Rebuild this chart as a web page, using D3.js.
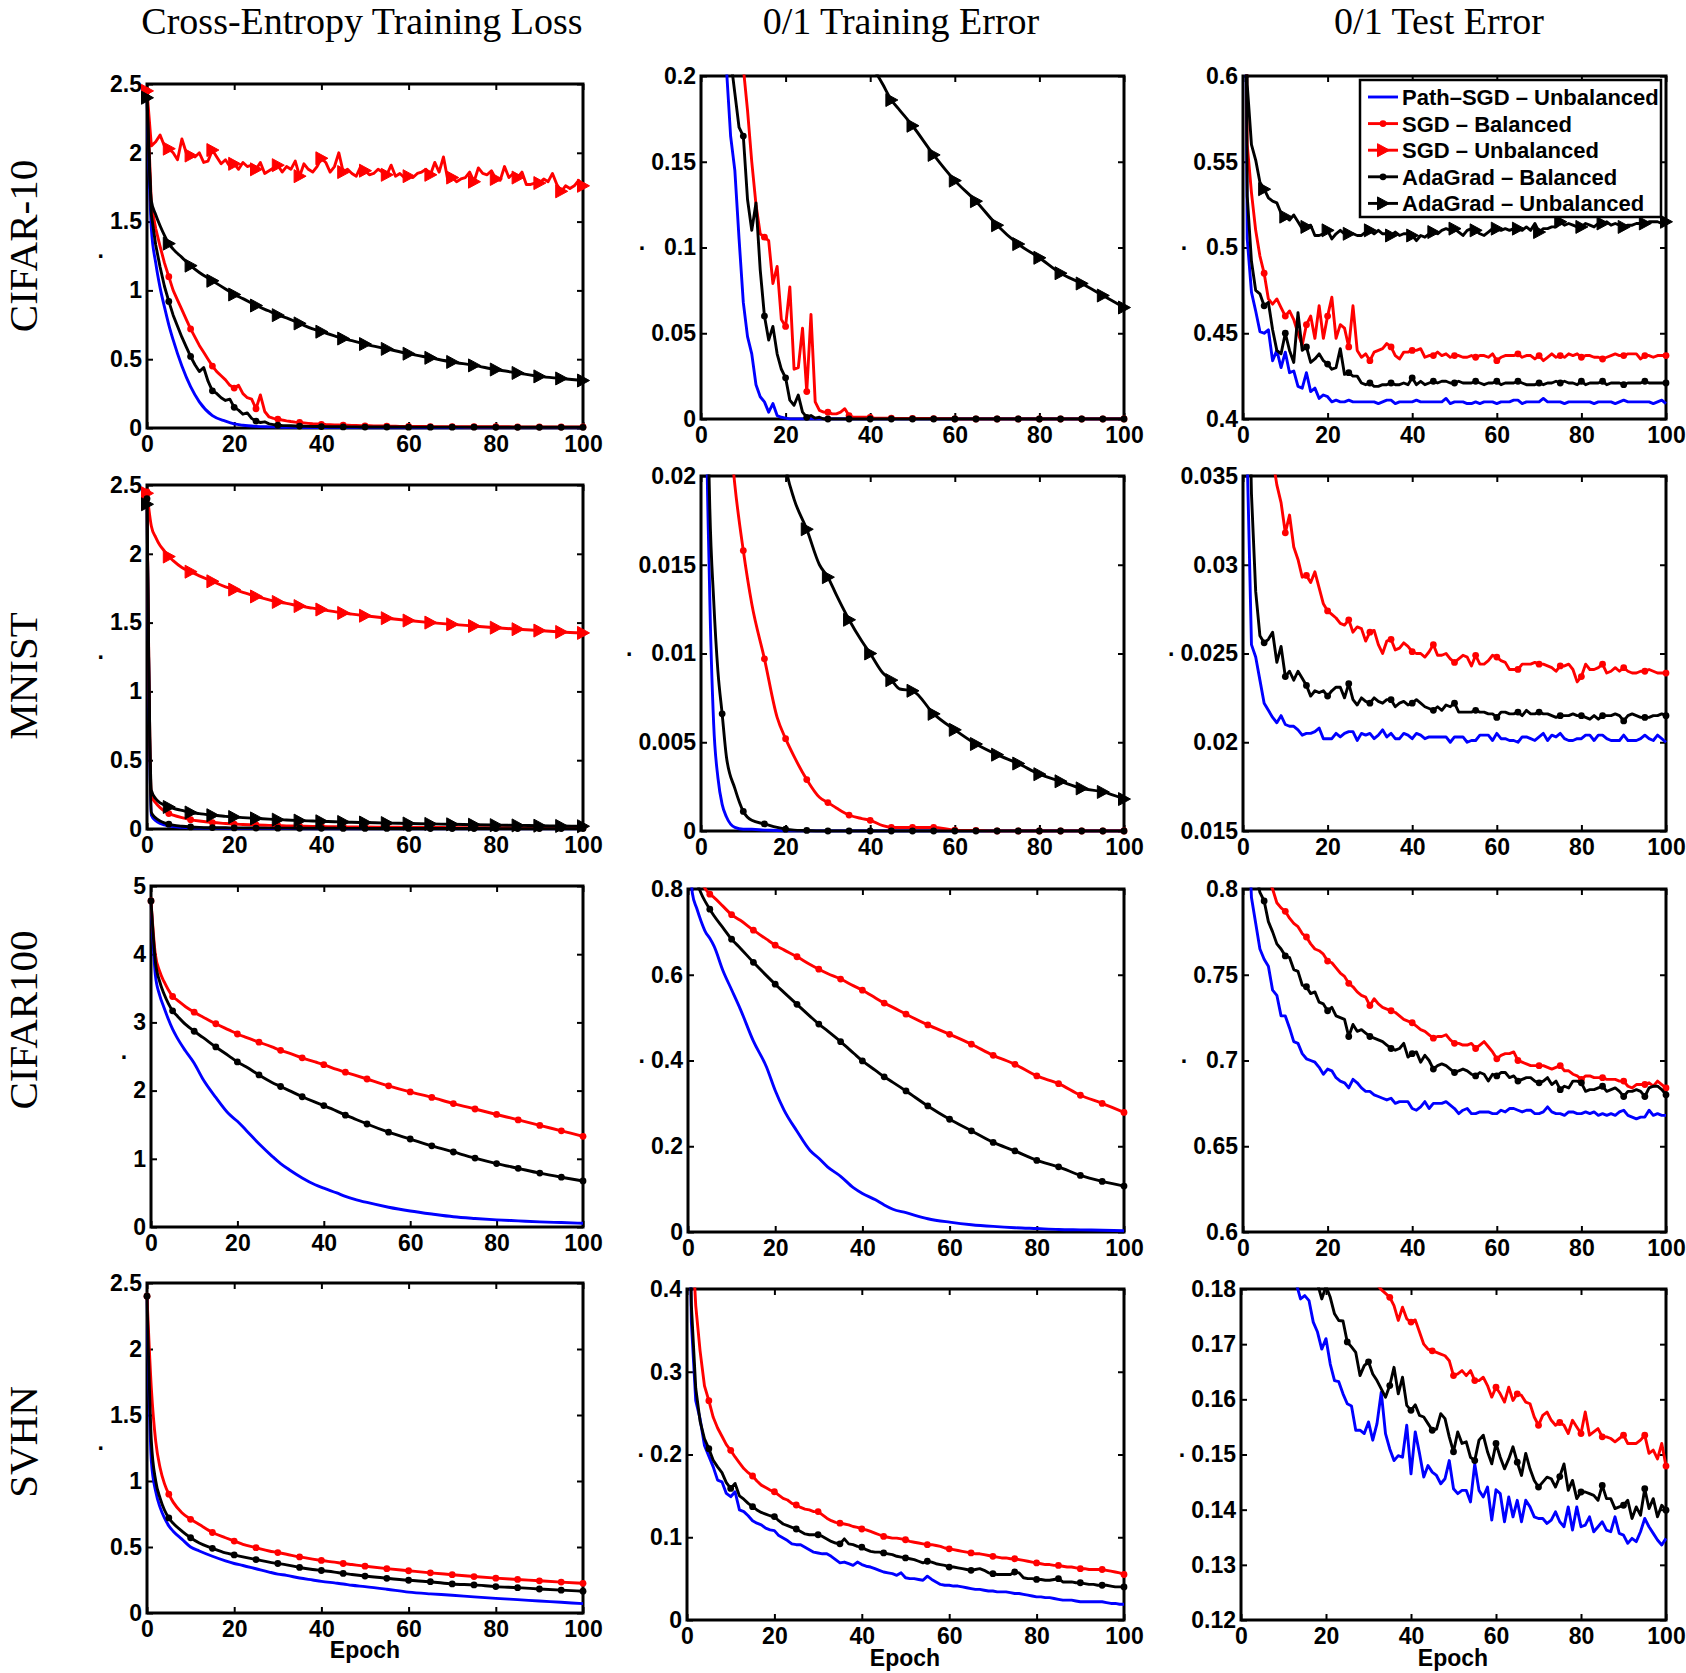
<!DOCTYPE html>
<html><head><meta charset="utf-8">
<script src="https://cdn.jsdelivr.net/npm/d3@7/dist/d3.min.js"></script>
<style>body{margin:0;background:#fff}</style>
</head><body>
<svg id="c" width="1686" height="1673"></svg>
<script>
// ---------------- DATA ----------------
const EPOCHS = d3.range(0, 101);
const GRID = [0,1,2,3,4,5,6,8,10,12,15,18,20,22,25,28,30,32,35,38,40,43,45,47,50,55,60,65,70,75,80,85,90,95,100];
const xTicks = [0,20,40,60,80,100];
const columnTitles = ["Cross-Entropy Training Loss","0/1 Training Error","0/1 Test Error"];
const rowLabels = ["CIFAR-10","MNIST","CIFAR100","SVHN"];
const seriesKeys = ["pathU","sgdB","sgdU","adaB","adaU"];
const seriesNames = ["Path\u2013SGD \u2013 Unbalanced","SGD \u2013 Balanced","SGD \u2013 Unbalanced","AdaGrad \u2013 Balanced","AdaGrad \u2013 Unbalanced"];

// CIFAR-10, cross-entropy loss
const c10_loss_pathU = [2.4,1.45,1.2,1.02,0.88,0.75,0.64,0.45,0.3,0.19,0.09,0.05,0.03,0.02,0.012,0.008,0.006,0.005,0.004,0.004,0.003,0.003,0.003,0.003,0.002,0.002,0.002,0.002,0.002,0.002,0.002,0.002,0.002,0.002,0.002];
const c10_loss_sgdB = [2.45,1.62,1.45,1.32,1.2,1.1,1.0,0.93,0.86,0.79,
0.72,0.66,0.6,0.55,0.5,0.45,0.41,0.38,0.35,0.31,
0.29,0.31,0.25,0.22,0.21,0.14,0.24,0.12,0.08,0.07,
0.065,0.058,0.052,0.047,0.043,0.04,0.037,0.034,0.031,0.029,
0.027,0.025,0.024,0.023,0.022,0.021,0.02,0.019,0.018,0.017,
0.016,0.016,0.015,0.015,0.014,0.014,0.013,0.013,0.012,0.012,
0.012,0.011,0.011,0.011,0.011,0.01,0.01,0.01,0.01,0.01,
0.01,0.01,0.01,0.009,0.009,0.009,0.009,0.009,0.009,0.009,
0.009,0.009,0.009,0.009,0.008,0.008,0.008,0.008,0.008,0.008,
0.008,0.008,0.008,0.008,0.008,0.008,0.008,0.008,0.008,0.008,
0.008];
const c10_loss_sgdU = [2.45,2.05,2.08,2.13,2.05,2.03,2.0,1.95,2.1,2.0,
1.98,1.97,2.0,1.93,1.94,2.02,1.97,1.92,1.95,1.9,
1.92,1.88,1.93,1.9,1.91,1.88,1.93,1.85,1.87,1.89,
1.91,1.86,1.9,1.88,1.94,1.83,1.92,1.88,1.86,1.9,
1.96,1.93,1.86,1.9,2.0,1.86,1.88,1.85,1.83,1.9,
1.87,1.84,1.85,1.88,1.86,1.84,1.91,1.83,1.85,1.82,
1.83,1.82,1.85,1.86,1.88,1.84,1.93,1.86,1.97,1.8,
1.82,1.79,1.81,1.82,1.86,1.79,1.89,1.85,1.84,1.87,
1.81,1.8,1.9,1.82,1.85,1.82,1.86,1.77,1.77,1.78,
1.78,1.81,1.79,1.85,1.77,1.72,1.76,1.74,1.76,1.8,
1.76];
const c10_loss_adaB = [2.4,1.55,1.33,1.17,1.03,0.92,0.82,0.74,0.66,0.59,
0.52,0.46,0.41,0.44,0.34,0.27,0.25,0.22,0.2,0.21,
0.15,0.13,0.1,0.11,0.07,0.05,0.04,0.045,0.03,0.025,
0.02,0.018,0.017,0.016,0.015,0.014,0.013,0.012,0.011,0.011,
0.01,0.01,0.009,0.009,0.009,0.008,0.008,0.008,0.008,0.007,
0.007,0.007,0.007,0.007,0.007,0.007,0.007,0.007,0.007,0.007,
0.006,0.006,0.006,0.006,0.006,0.006,0.006,0.006,0.006,0.006,
0.006,0.006,0.006,0.006,0.006,0.006,0.006,0.006,0.006,0.006,
0.005,0.005,0.005,0.005,0.005,0.005,0.005,0.005,0.005,0.005,
0.005,0.005,0.005,0.005,0.005,0.005,0.005,0.005,0.005,0.005,
0.005];
const c10_loss_adaU = [2.4,1.65,1.55,1.47,1.4,1.34,1.3,1.24,1.18,1.13,1.07,1.01,0.97,0.94,0.89,0.85,0.82,0.8,0.76,0.72,0.7,0.67,0.65,0.635,0.61,0.575,0.54,0.51,0.48,0.455,0.425,0.4,0.375,0.36,0.345];

// CIFAR-10, 0/1 training error
const c10_err_pathU = [0.9,0.6,0.45,0.35,0.28,0.235,0.205,0.165,0.145,0.105,
0.068,0.048,0.038,0.02,0.013,0.01,0.004,0.009,0.002,0.001,
0.0005,0,0,0,0,0,0,0,0,0,
0,0,0,0,0,0,0,0,0,0,
0,0,0,0,0,0,0,0,0,0,
0,0,0,0,0,0,0,0,0,0,
0,0,0,0,0,0,0,0,0,0,
0,0,0,0,0,0,0,0,0,0,
0,0,0,0,0,0,0,0,0,0,
0,0,0,0,0,0,0,0,0,0,
0];
const c10_err_sgdB = [0.9,0.62,0.5,0.42,0.37,0.33,0.3,0.27,0.25,0.225,
0.205,0.18,0.15,0.125,0.108,0.106,0.104,0.079,0.089,0.058,
0.054,0.077,0.029,0.03,0.053,0.016,0.061,0.01,0.005,0.004,
0.004,0.003,0.003,0.004,0.006,0.002,0.001,0.001,0.001,0.001,
0.001,0.0005,0.0005,0.0005,0.0005,0.0005,0.0003,0.0003,0.0003,0.0003,
0.0003,0.0003,0.0003,0.0003,0.0003,0.0002,0.0002,0.0002,0.0002,0.0002,
0,0,0,0,0,0,0,0,0,0,
0,0,0,0,0,0,0,0,0,0,
0,0,0,0,0,0,0,0,0,0,
0,0,0,0,0,0,0,0,0,0,
0];
const c10_err_adaB = [0.9,0.55,0.42,0.35,0.3,0.26,0.23,0.21,0.19,0.17,
0.165,0.128,0.11,0.126,0.087,0.06,0.046,0.054,0.038,0.029,
0.024,0.011,0.008,0.014,0.004,0.001,0.002,0.0005,0.001,0,
0,0,0,0,0,0,0,0,0,0,
0,0,0,0,0,0,0,0,0,0,
0,0,0,0,0,0,0,0,0,0,
0,0,0,0,0,0,0,0,0,0,
0,0,0,0,0,0,0,0,0,0,
0,0,0,0,0,0,0,0,0,0,
0,0,0,0,0,0,0,0,0,0,
0];
const c10_err_adaU = [0.9,0.75,0.68,0.63,0.6,0.58,0.56,0.52,0.48,0.45,0.41,0.37,0.35,0.33,0.3,0.275,0.26,0.248,0.232,0.218,0.208,0.195,0.186,0.18,0.171,0.154,0.139,0.127,0.113,0.102,0.094,0.085,0.079,0.072,0.065];

// CIFAR-10, 0/1 test error
const c10_test_pathU = [0.9,0.505,0.474,0.463,0.451,0.45,0.452,0.434,0.44,0.43,
0.439,0.427,0.428,0.419,0.418,0.427,0.416,0.418,0.412,0.414,
0.413,0.41,0.411,0.41,0.41,0.411,0.41,0.41,0.41,0.41,
0.41,0.41,0.409,0.41,0.411,0.411,0.409,0.41,0.41,0.41,
0.41,0.411,0.41,0.41,0.41,0.41,0.41,0.41,0.412,0.409,
0.41,0.41,0.41,0.409,0.409,0.41,0.409,0.41,0.41,0.41,
0.409,0.41,0.41,0.41,0.411,0.411,0.409,0.41,0.41,0.41,
0.41,0.412,0.41,0.41,0.41,0.41,0.409,0.41,0.41,0.41,
0.41,0.41,0.41,0.409,0.41,0.41,0.41,0.41,0.409,0.41,
0.411,0.41,0.41,0.41,0.41,0.41,0.41,0.409,0.41,0.411,
0.409];
const c10_test_sgdB = [0.9,0.56,0.532,0.51,0.495,0.485,0.47,0.467,0.47,0.465,
0.46,0.463,0.458,0.45,0.443,0.455,0.46,0.447,0.466,0.447,
0.46,0.471,0.447,0.455,0.453,0.442,0.466,0.44,0.436,0.438,
0.434,0.439,0.44,0.441,0.444,0.442,0.437,0.435,0.439,0.439,
0.44,0.44,0.441,0.436,0.437,0.437,0.439,0.437,0.438,0.436,
0.437,0.437,0.436,0.436,0.437,0.436,0.437,0.437,0.436,0.438,
0.434,0.436,0.437,0.437,0.437,0.438,0.436,0.437,0.437,0.435,
0.437,0.434,0.436,0.438,0.436,0.437,0.436,0.438,0.437,0.438,
0.436,0.437,0.437,0.436,0.436,0.435,0.436,0.437,0.438,0.437,
0.437,0.438,0.438,0.438,0.435,0.437,0.437,0.436,0.437,0.437,
0.437];
const c10_test_adaB = [0.9,0.53,0.492,0.475,0.473,0.466,0.468,0.452,0.44,0.438,
0.45,0.44,0.433,0.462,0.44,0.442,0.433,0.435,0.438,0.434,
0.432,0.429,0.43,0.441,0.426,0.427,0.425,0.425,0.421,0.42,
0.421,0.419,0.419,0.42,0.42,0.421,0.42,0.42,0.421,0.42,
0.424,0.42,0.422,0.42,0.421,0.422,0.421,0.422,0.422,0.421,
0.421,0.422,0.421,0.421,0.421,0.422,0.421,0.42,0.421,0.421,
0.422,0.42,0.421,0.421,0.421,0.422,0.421,0.42,0.42,0.42,
0.421,0.42,0.421,0.421,0.422,0.421,0.422,0.421,0.421,0.42,
0.422,0.42,0.421,0.421,0.421,0.422,0.42,0.421,0.421,0.421,
0.42,0.421,0.421,0.421,0.421,0.422,0.421,0.421,0.421,0.421,
0.421];
const c10_test_adaU = [0.9,0.595,0.56,0.551,0.538,0.534,0.529,0.527,0.526,0.52,
0.518,0.516,0.519,0.515,0.511,0.512,0.513,0.507,0.507,0.508,
0.51,0.505,0.508,0.51,0.508,0.508,0.508,0.507,0.507,0.509,
0.51,0.508,0.51,0.508,0.508,0.507,0.509,0.507,0.508,0.508,
0.507,0.504,0.507,0.506,0.508,0.509,0.508,0.51,0.511,0.51,
0.511,0.509,0.507,0.51,0.511,0.51,0.508,0.507,0.509,0.511,
0.511,0.51,0.511,0.51,0.511,0.511,0.51,0.512,0.51,0.514,
0.509,0.511,0.511,0.512,0.512,0.515,0.513,0.514,0.513,0.512,
0.512,0.514,0.513,0.512,0.514,0.514,0.515,0.513,0.514,0.513,
0.512,0.513,0.513,0.514,0.514,0.514,0.515,0.515,0.515,0.514,
0.515];

// MNIST
const mn_loss_pathU = [2.4,0.1,0.06,0.04,0.03,0.022,0.017,0.012,0.009,0.007,0.006,0.005,0.004,0.004,0.003,0.003,0.003,0.003,0.002,0.002,0.002,0.002,0.002,0.002,0.002,0.002,0.002,0.002,0.002,0.002,0.002,0.002,0.002,0.002,0.002];
const mn_loss_sgdB = [2.45,0.24,0.19,0.155,0.13,0.112,0.1,0.082,0.068,0.058,0.047,0.04,0.036,0.033,0.029,0.026,0.024,0.023,0.021,0.019,0.018,0.017,0.016,0.015,0.014,0.013,0.012,0.011,0.01,0.0095,0.009,0.0085,0.008,0.0078,0.0075];
const mn_loss_sgdU = [2.44,2.2,2.12,2.06,2.02,1.98,1.95,1.9,1.87,1.84,1.8,1.76,1.74,1.72,1.69,1.665,1.65,1.64,1.62,1.605,1.595,1.58,1.57,1.562,1.55,1.532,1.515,1.5,1.487,1.475,1.463,1.452,1.442,1.432,1.425];
const mn_loss_adaB = [2.4,0.12,0.08,0.058,0.045,0.035,0.028,0.02,0.015,0.012,0.01,0.009,0.008,0.0075,0.007,0.0065,0.006,0.006,0.0055,0.005,0.005,0.005,0.0045,0.0045,0.004,0.004,0.004,0.0035,0.0035,0.0035,0.003,0.003,0.003,0.003,0.003];
const mn_loss_adaU = [2.36,0.28,0.22,0.19,0.175,0.16,0.15,0.135,0.12,0.112,0.1,0.092,0.087,0.083,0.077,0.072,0.068,0.065,0.061,0.058,0.056,0.053,0.051,0.049,0.047,0.043,0.04,0.037,0.034,0.031,0.028,0.026,0.024,0.022,0.02];

const mn_err_pathU = [0.1,0.03,0.014,0.006,0.003,0.0015,0.0008,0.0002,0.0001,0.0001,0.00005,0.00003,0,0,0,0,0,0,0,0,0,0,0,0,0,0,0,0,0,0,0,0,0,0,0];
const mn_err_sgdB = [0.2,0.08,0.055,0.042,0.034,0.029,0.025,0.0195,0.0158,0.0128,0.0097,0.0064,0.0052,0.0042,0.0029,0.0019,0.0016,0.0013,0.0009,0.0007,0.0006,0.0003,0.0002,0.0002,0.0002,0.0002,0.00005,0.00003,0,0,0,0,0,0,0];
const mn_err_adaB = [0.1,0.035,0.019,0.013,0.009,0.0066,0.0042,0.0024,0.0011,0.0006,0.0004,0.0002,0.0001,0.00005,0.00003,0,0,0,0,0,0,0,0,0,0,0,0,0,0,0,0,0,0,0,0];
const mn_err_adaU = [0.1,0.07,0.06,0.055,0.052,0.049,0.046,0.041,0.037,0.033,0.028,0.024,0.0205,0.0187,0.017,0.015,0.0143,0.0133,0.0119,0.0107,0.01,0.0089,0.0085,0.008,0.0079,0.0066,0.0057,0.0049,0.0043,0.0038,0.0032,0.0028,0.0024,0.0022,0.0018];

const mn_test_pathU = [0.1,0.036,0.0255,0.0248,0.0235,0.0222,0.0218,0.0214,0.0211,0.0215,
0.021,0.0209,0.0209,0.0207,0.0204,0.0205,0.0205,0.0206,0.0208,0.0202,
0.0202,0.0202,0.0205,0.0203,0.0205,0.0206,0.0206,0.0201,0.0205,0.0204,
0.0205,0.0202,0.0204,0.0207,0.0203,0.0205,0.0202,0.0202,0.0205,0.0204,
0.0202,0.0205,0.0204,0.0202,0.0203,0.0203,0.0203,0.0203,0.0203,0.02,
0.0203,0.0203,0.0203,0.02,0.0201,0.0201,0.0204,0.0204,0.0204,0.0201,
0.0205,0.0202,0.0202,0.0201,0.0201,0.02,0.0203,0.0203,0.0202,0.0201,
0.0203,0.0205,0.0201,0.0204,0.0203,0.0205,0.0202,0.0201,0.0201,0.0202,
0.0202,0.0204,0.0204,0.0201,0.0204,0.0204,0.0202,0.0201,0.0201,0.0201,
0.0204,0.0201,0.0201,0.0201,0.0202,0.0204,0.0202,0.0201,0.0204,0.0202,
0.02];
const mn_test_sgdB = [0.15,0.08,0.06,0.05,0.045,0.041,0.038,0.036,0.0345,0.0335,
0.0318,0.0328,0.031,0.0303,0.0293,0.0294,0.029,0.0296,0.0287,0.0278,
0.0274,0.0272,0.027,0.0267,0.0266,0.0269,0.0262,0.0265,0.0264,0.0257,
0.0262,0.0263,0.0255,0.025,0.0257,0.0258,0.0252,0.0253,0.0256,0.0254,
0.0251,0.025,0.025,0.0248,0.0251,0.0255,0.0249,0.0249,0.025,0.0247,
0.0245,0.0247,0.0249,0.0248,0.0243,0.0249,0.0244,0.0244,0.0246,0.0249,
0.0248,0.0246,0.0245,0.0241,0.0241,0.0241,0.0244,0.0244,0.0244,0.0245,
0.0244,0.0244,0.0243,0.0242,0.024,0.0243,0.0243,0.0244,0.0241,0.0234,
0.0237,0.0244,0.0241,0.0241,0.0242,0.0244,0.0239,0.024,0.0242,0.024,
0.0242,0.024,0.0239,0.0239,0.024,0.024,0.0241,0.024,0.0239,0.0239,
0.0239];
const mn_test_adaB = [0.1,0.045,0.034,0.0285,0.026,0.0256,0.0258,0.0262,0.0245,0.0254,
0.0237,0.024,0.0235,0.024,0.0236,0.0232,0.0226,0.0229,0.0228,0.0229,
0.0226,0.0229,0.0231,0.0231,0.0225,0.0233,0.0224,0.0221,0.0225,0.0223,
0.0222,0.0225,0.0223,0.0222,0.0224,0.0224,0.022,0.0222,0.0223,0.0221,
0.0222,0.0224,0.0222,0.022,0.0219,0.0218,0.022,0.0218,0.0221,0.022,
0.0222,0.0217,0.0217,0.0217,0.0217,0.0218,0.0217,0.0217,0.0216,0.0216,
0.0214,0.0217,0.0217,0.0216,0.0216,0.0217,0.0215,0.0218,0.0216,0.0216,
0.0217,0.0216,0.0216,0.0215,0.0214,0.0215,0.0215,0.0215,0.0216,0.0215,
0.0215,0.0214,0.0213,0.0215,0.0213,0.0215,0.0215,0.0215,0.0216,0.0215,
0.0212,0.0215,0.0216,0.0215,0.0214,0.0214,0.0214,0.0215,0.0215,0.0216,
0.0215];

// CIFAR100
const c100_loss_pathU = [4.78,3.7,3.4,3.22,3.05,2.9,2.78,2.58,2.4,2.17,1.9,1.66,1.55,1.42,1.22,1.04,0.93,0.84,0.72,0.62,0.57,0.5,0.45,0.41,0.36,0.29,0.235,0.19,0.15,0.125,0.105,0.09,0.075,0.065,0.055];
const c100_loss_sgdB = [4.78,4.0,3.75,3.6,3.48,3.38,3.33,3.23,3.15,3.08,2.98,2.89,2.83,2.78,2.71,2.64,2.59,2.55,2.48,2.42,2.38,2.31,2.27,2.23,2.17,2.07,1.98,1.9,1.81,1.73,1.65,1.57,1.49,1.41,1.33];
const c100_loss_adaB = [4.78,3.9,3.6,3.42,3.28,3.17,3.1,2.97,2.87,2.78,2.64,2.51,2.42,2.35,2.23,2.12,2.06,2.0,1.91,1.83,1.78,1.7,1.64,1.59,1.51,1.39,1.29,1.19,1.1,1.01,0.93,0.86,0.79,0.73,0.675];

const c100_err_pathU = [0.99,0.79,0.755,0.725,0.7,0.685,0.666,0.61,0.565,0.52,0.445,0.385,0.33,0.285,0.235,0.19,0.172,0.152,0.13,0.103,0.09,0.075,0.063,0.053,0.045,0.031,0.023,0.017,0.013,0.01,0.008,0.006,0.005,0.004,0.003];
const c100_err_sgdB = [0.99,0.9,0.85,0.82,0.8,0.788,0.78,0.76,0.74,0.727,0.704,0.683,0.669,0.658,0.642,0.624,0.613,0.603,0.59,0.574,0.564,0.546,0.534,0.524,0.508,0.483,0.461,0.438,0.412,0.391,0.364,0.346,0.319,0.3,0.279];
const c100_err_adaB = [0.99,0.88,0.82,0.79,0.77,0.753,0.737,0.71,0.683,0.662,0.629,0.598,0.578,0.559,0.531,0.503,0.485,0.469,0.444,0.417,0.399,0.377,0.362,0.349,0.329,0.294,0.263,0.236,0.209,0.189,0.167,0.152,0.132,0.118,0.107];

const c100_test_pathU = [0.99,0.85,0.795,0.78,0.765,0.759,0.755,0.741,0.738,0.726,
0.726,0.719,0.711,0.71,0.704,0.701,0.7,0.699,0.696,0.692,
0.695,0.694,0.69,0.688,0.687,0.684,0.689,0.687,0.684,0.682,
0.682,0.68,0.679,0.678,0.677,0.678,0.675,0.676,0.676,0.676,
0.672,0.671,0.673,0.676,0.672,0.675,0.675,0.675,0.676,0.674,
0.672,0.669,0.671,0.672,0.669,0.669,0.67,0.67,0.67,0.669,
0.669,0.671,0.67,0.672,0.672,0.671,0.67,0.671,0.671,0.669,
0.669,0.67,0.673,0.67,0.669,0.669,0.668,0.67,0.67,0.669,
0.669,0.67,0.669,0.67,0.668,0.669,0.668,0.669,0.668,0.67,
0.671,0.668,0.667,0.666,0.667,0.667,0.671,0.668,0.669,0.668,
0.668];
const c100_test_sgdB = [0.99,0.93,0.88,0.85,0.83,0.815,0.805,0.8,0.792,0.789,
0.787,0.783,0.78,0.778,0.774,0.772,0.768,0.765,0.764,0.762,
0.758,0.757,0.754,0.751,0.749,0.745,0.743,0.74,0.738,0.737,
0.732,0.736,0.733,0.731,0.73,0.729,0.728,0.726,0.724,0.723,
0.722,0.72,0.718,0.717,0.715,0.713,0.714,0.714,0.715,0.712,
0.71,0.71,0.709,0.709,0.71,0.707,0.709,0.711,0.708,0.705,
0.701,0.703,0.704,0.704,0.705,0.7,0.699,0.698,0.697,0.697,
0.697,0.697,0.696,0.695,0.696,0.697,0.694,0.694,0.692,0.691,
0.689,0.691,0.691,0.69,0.69,0.69,0.689,0.689,0.689,0.688,
0.688,0.685,0.684,0.686,0.686,0.686,0.687,0.685,0.688,0.686,
0.684];
const c100_test_adaB = [0.99,0.9,0.85,0.81,0.798,0.793,0.781,0.775,0.768,0.765,
0.761,0.76,0.753,0.752,0.744,0.743,0.739,0.74,0.734,0.733,
0.729,0.731,0.726,0.725,0.724,0.714,0.721,0.717,0.718,0.716,
0.714,0.713,0.712,0.711,0.709,0.707,0.706,0.707,0.71,0.702,
0.704,0.705,0.699,0.703,0.7,0.695,0.697,0.698,0.697,0.695,
0.693,0.694,0.695,0.694,0.692,0.691,0.693,0.692,0.688,0.692,
0.691,0.693,0.693,0.69,0.691,0.688,0.689,0.69,0.69,0.688,
0.687,0.688,0.69,0.686,0.688,0.683,0.685,0.684,0.688,0.688,
0.687,0.682,0.683,0.683,0.684,0.685,0.682,0.683,0.684,0.682,
0.679,0.682,0.682,0.683,0.682,0.679,0.684,0.685,0.685,0.683,
0.68];

// SVHN
const sv_loss_pathU = [2.4,1.15,0.92,0.8,0.72,0.66,0.62,0.56,0.5,0.47,0.43,0.395,0.375,0.36,0.335,0.31,0.295,0.285,0.265,0.25,0.24,0.228,0.22,0.21,0.2,0.18,0.158,0.145,0.135,0.122,0.111,0.101,0.091,0.081,0.071];
const sv_loss_sgdB = [2.4,1.7,1.3,1.1,0.98,0.9,0.84,0.76,0.71,0.67,0.61,0.57,0.545,0.52,0.495,0.47,0.458,0.445,0.425,0.408,0.398,0.385,0.375,0.367,0.355,0.336,0.32,0.304,0.29,0.276,0.264,0.254,0.244,0.234,0.225];
const sv_loss_adaB = [2.4,1.3,1.0,0.87,0.78,0.72,0.68,0.62,0.57,0.53,0.49,0.455,0.44,0.425,0.405,0.385,0.375,0.365,0.345,0.33,0.322,0.31,0.3,0.292,0.28,0.263,0.248,0.237,0.22,0.213,0.2,0.192,0.182,0.173,0.165];

const sv_err_pathU = [0.7,0.36,0.265,0.243,0.211,0.198,0.185,0.169,0.167,0.153,
0.149,0.155,0.133,0.131,0.126,0.12,0.117,0.115,0.111,0.109,
0.108,0.102,0.099,0.096,0.092,0.091,0.091,0.088,0.085,0.082,
0.081,0.08,0.08,0.077,0.073,0.069,0.07,0.068,0.066,0.07,
0.067,0.065,0.064,0.062,0.06,0.058,0.057,0.056,0.054,0.057,
0.051,0.05,0.05,0.049,0.048,0.053,0.049,0.046,0.043,0.042,
0.042,0.041,0.041,0.04,0.039,0.038,0.037,0.037,0.036,0.035,
0.035,0.034,0.034,0.034,0.033,0.032,0.032,0.031,0.03,0.029,
0.028,0.028,0.027,0.027,0.026,0.025,0.024,0.024,0.024,0.023,
0.022,0.022,0.022,0.022,0.022,0.022,0.021,0.02,0.02,0.019,
0.019];
const sv_err_sgdB = [0.7,0.48,0.38,0.325,0.283,0.265,0.245,0.232,0.222,0.212,
0.205,0.197,0.19,0.183,0.178,0.174,0.168,0.163,0.16,0.157,
0.155,0.151,0.147,0.145,0.141,0.139,0.136,0.134,0.133,0.131,
0.131,0.127,0.123,0.12,0.118,0.117,0.116,0.115,0.113,0.112,
0.11,0.109,0.107,0.105,0.103,0.101,0.1,0.099,0.099,0.098,
0.097,0.095,0.094,0.093,0.092,0.091,0.091,0.09,0.089,0.087,
0.086,0.085,0.084,0.083,0.082,0.081,0.08,0.08,0.079,0.078,
0.077,0.076,0.075,0.075,0.074,0.074,0.073,0.072,0.071,0.07,
0.069,0.068,0.067,0.067,0.066,0.066,0.065,0.064,0.064,0.063,
0.062,0.062,0.061,0.061,0.061,0.061,0.06,0.059,0.058,0.057,
0.055];
const sv_err_adaB = [0.7,0.38,0.28,0.24,0.219,0.207,0.193,0.185,0.178,0.166,
0.159,0.165,0.15,0.146,0.141,0.137,0.133,0.13,0.128,0.126,
0.125,0.12,0.116,0.114,0.112,0.11,0.107,0.104,0.103,0.103,
0.103,0.101,0.098,0.095,0.093,0.092,0.098,0.092,0.091,0.089,
0.088,0.085,0.083,0.082,0.082,0.081,0.08,0.079,0.077,0.076,
0.075,0.074,0.073,0.071,0.069,0.071,0.07,0.068,0.067,0.066,
0.064,0.064,0.063,0.062,0.061,0.06,0.061,0.062,0.06,0.057,
0.056,0.055,0.055,0.055,0.055,0.058,0.057,0.051,0.05,0.05,
0.049,0.049,0.048,0.048,0.049,0.05,0.046,0.046,0.046,0.045,
0.045,0.044,0.043,0.043,0.042,0.042,0.042,0.041,0.04,0.04,
0.04];

const sv_test_pathU = [0.8,0.4,0.32,0.28,0.25,0.235,0.22,0.21,0.2,0.195,
0.19,0.187,0.184,0.181,0.1782,0.1788,0.1779,0.174,0.1722,0.1691,
0.171,0.1664,0.1634,0.1632,0.161,0.1592,0.1588,0.1544,0.1544,0.1538,
0.1559,0.1526,0.1556,0.1613,0.1538,0.151,0.1489,0.1498,0.1495,0.1553,
0.1465,0.1541,0.1502,0.1459,0.148,0.1468,0.1462,0.1447,0.1456,0.1489,
0.1438,0.1429,0.1435,0.1435,0.1414,0.1483,0.1435,0.1423,0.1441,0.1381,
0.1436,0.1429,0.1378,0.1423,0.1387,0.1417,0.1378,0.1417,0.1405,0.1387,
0.1384,0.1384,0.1375,0.1381,0.1396,0.1378,0.1369,0.1405,0.1363,0.1405,
0.1369,0.1372,0.1387,0.136,0.1369,0.1378,0.1363,0.136,0.1387,0.1357,
0.1354,0.1339,0.1348,0.1342,0.136,0.1384,0.1369,0.1357,0.1345,0.1336,
0.1348];
const sv_test_sgdB = [0.85,0.5,0.4,0.34,0.31,0.29,0.275,0.262,0.252,0.244,
0.237,0.231,0.226,0.222,0.218,0.214,0.211,0.208,0.205,0.203,
0.2,0.198,0.196,0.194,0.192,0.19,0.188,0.187,0.185,0.184,
0.183,0.182,0.1808,0.1799,0.1792,0.1785,0.177,0.1743,0.1767,0.1746,
0.174,0.1744,0.1722,0.17,0.1691,0.1688,0.1685,0.1682,0.1679,0.167,
0.1643,0.1646,0.1652,0.1643,0.1652,0.1634,0.1634,0.164,0.1625,0.1604,
0.1622,0.161,0.1595,0.1622,0.1598,0.161,0.1607,0.1595,0.1592,0.1568,
0.1553,0.1571,0.1577,0.1562,0.1553,0.1558,0.1553,0.1538,0.1562,0.155,
0.1538,0.1577,0.1535,0.1541,0.1547,0.1532,0.1532,0.1529,0.1523,0.1529,
0.1535,0.152,0.152,0.152,0.1526,0.1535,0.1502,0.1508,0.1492,0.152,
0.1479];
const sv_test_adaB = [0.8,0.45,0.35,0.3,0.27,0.25,0.235,0.225,0.215,0.208,
0.202,0.198,0.194,0.19,0.188,0.186,0.184,0.183,0.181,0.1782,
0.1805,0.1785,0.1755,0.1743,0.1742,0.1704,0.1695,0.1685,0.1643,0.1661,
0.1668,0.1646,0.1634,0.1619,0.1604,0.1625,0.1658,0.161,0.164,0.1589,
0.158,0.159,0.1571,0.1568,0.1556,0.1544,0.1546,0.1574,0.1565,0.1532,
0.1505,0.1541,0.152,0.1523,0.1495,0.1489,0.1526,0.1535,0.1505,0.1483,
0.152,0.1495,0.1474,0.1492,0.1514,0.1486,0.1462,0.1502,0.1474,0.1453,
0.1441,0.145,0.1459,0.1456,0.1441,0.146,0.1483,0.1435,0.1453,0.142,
0.1432,0.1432,0.1429,0.1426,0.1417,0.1444,0.142,0.142,0.1402,0.1405,
0.1408,0.1417,0.1384,0.1405,0.139,0.1438,0.1402,0.142,0.1387,0.1408,
0.1399];

// Axis ticks per panel
const yTicksLoss25 = [0,0.5,1,1.5,2,2.5];
const yTicksC10Err = [0,0.05,0.1,0.15,0.2];
const yTicksC10Test = [0.4,0.45,0.5,0.55,0.6];
const yTicksMnErr = [0,0.005,0.01,0.015,0.02];
const yTicksMnTest = [0.015,0.02,0.025,0.03,0.035];
const yTicksLoss5 = [0,1,2,3,4,5];
const yTicksC100Err = [0,0.2,0.4,0.6,0.8];
const yTicksC100Test = [0.6,0.65,0.7,0.75,0.8];
const yTicksSvErr = [0,0.1,0.2,0.3,0.4];
const yTicksSvTest = [0.12,0.13,0.14,0.15,0.16,0.17,0.18];

const panels = [
  {row:0,col:0,domain:[0,2.5],ticks:yTicksLoss25,series:{pathU:c10_loss_pathU,sgdB:c10_loss_sgdB,sgdU:c10_loss_sgdU,adaB:c10_loss_adaB,adaU:c10_loss_adaU}},
  {row:0,col:1,domain:[0,0.2],ticks:yTicksC10Err,series:{pathU:c10_err_pathU,sgdB:c10_err_sgdB,adaB:c10_err_adaB,adaU:c10_err_adaU}},
  {row:0,col:2,domain:[0.4,0.6],ticks:yTicksC10Test,series:{pathU:c10_test_pathU,sgdB:c10_test_sgdB,adaB:c10_test_adaB,adaU:c10_test_adaU},legend:true},
  {row:1,col:0,domain:[0,2.5],ticks:yTicksLoss25,series:{pathU:mn_loss_pathU,sgdB:mn_loss_sgdB,sgdU:mn_loss_sgdU,adaB:mn_loss_adaB,adaU:mn_loss_adaU}},
  {row:1,col:1,domain:[0,0.02],ticks:yTicksMnErr,series:{pathU:mn_err_pathU,sgdB:mn_err_sgdB,adaB:mn_err_adaB,adaU:mn_err_adaU}},
  {row:1,col:2,domain:[0.015,0.035],ticks:yTicksMnTest,series:{pathU:mn_test_pathU,sgdB:mn_test_sgdB,adaB:mn_test_adaB}},
  {row:2,col:0,domain:[0,5],ticks:yTicksLoss5,series:{pathU:c100_loss_pathU,sgdB:c100_loss_sgdB,adaB:c100_loss_adaB}},
  {row:2,col:1,domain:[0,0.8],ticks:yTicksC100Err,series:{pathU:c100_err_pathU,sgdB:c100_err_sgdB,adaB:c100_err_adaB}},
  {row:2,col:2,domain:[0.6,0.8],ticks:yTicksC100Test,series:{pathU:c100_test_pathU,sgdB:c100_test_sgdB,adaB:c100_test_adaB}},
  {row:3,col:0,domain:[0,2.5],ticks:yTicksLoss25,series:{pathU:sv_loss_pathU,sgdB:sv_loss_sgdB,adaB:sv_loss_adaB}},
  {row:3,col:1,domain:[0,0.4],ticks:yTicksSvErr,series:{pathU:sv_err_pathU,sgdB:sv_err_sgdB,adaB:sv_err_adaB}},
  {row:3,col:2,domain:[0.12,0.18],ticks:yTicksSvTest,series:{pathU:sv_test_pathU,sgdB:sv_test_sgdB,adaB:sv_test_adaB}}
];

// ---------------- LAYOUT & STYLE ----------------
const layout = [
  [{l:147,r:583,t:84,b:428},{l:701,r:1124,t:76,b:419},{l:1243,r:1666,t:76,b:419}],
  [{l:147,r:583,t:485,b:829},{l:701,r:1124,t:476,b:831},{l:1243,r:1666,t:476,b:831}],
  [{l:151,r:583,t:886,b:1227},{l:688,r:1124,t:889,b:1232},{l:1243,r:1666,t:889,b:1232}],
  [{l:147,r:583,t:1283,b:1613},{l:687,r:1124,t:1289,b:1620},{l:1241,r:1666,t:1289,b:1620}]
];
const styles = {
  pathU:{color:"#0000ff",marker:null},
  sgdB:{color:"#ff0000",marker:"dot"},
  sgdU:{color:"#ff0000",marker:"tri"},
  adaB:{color:"#000000",marker:"dot"},
  adaU:{color:"#000000",marker:"tri"}
};
const SANS = "'Liberation Sans', Arial, Helvetica, sans-serif";
const SERIF = "'Liberation Serif', 'Times New Roman', Times, serif";
const LW = 2.9;
const triPath = "M-5.5,-6.5L6.5,0L-5.5,6.5Z";
const fmt = d3.format("~g");

const svg = d3.select("#c");
svg.append("rect").attr("width",1686).attr("height",1673).attr("fill","#fff");

// column titles
const titleX = [362, 901, 1439];
columnTitles.forEach((t,i)=>{
  svg.append("text").attr("x",titleX[i]).attr("y",34).attr("text-anchor","middle")
    .attr("font-family",SERIF).attr("font-size",38).attr("fill","#000").text(t);
});
// row labels
const rowY = [246, 676, 1020, 1442];
rowLabels.forEach((t,i)=>{
  svg.append("text").attr("transform",`translate(37,${rowY[i]}) rotate(-90)`)
    .attr("text-anchor","middle").attr("font-family",SERIF).attr("font-size",41)
    .attr("fill","#000").text(t);
});

function drawMarker(g, kind, color, px, py){
  if(kind==="dot"){
    g.append("circle").attr("cx",px).attr("cy",py).attr("r",3.4).attr("fill",color);
  } else if(kind==="tri"){
    g.append("path").attr("d",triPath).attr("transform",`translate(${px},${py})`)
      .attr("fill",color).attr("stroke",color).attr("stroke-width",1).attr("stroke-linejoin","miter");
  }
}

panels.forEach((p,pi)=>{
  const L = layout[p.row][p.col];
  const x = d3.scaleLinear().domain([0,100]).range([L.l,L.r]);
  const y = d3.scaleLinear().domain(p.domain).range([L.b,L.t]);
  const g = svg.append("g");

  const cid = "clip"+pi;
  svg.append("defs").append("clipPath").attr("id",cid).append("rect")
    .attr("x",L.l-1.5).attr("y",L.t-1.5).attr("width",L.r-L.l+3).attr("height",L.b-L.t+3);

  const styleAxis = sel => {
    sel.select(".domain").remove();
    sel.selectAll(".tick line").attr("stroke","#000").attr("stroke-width",2);
    sel.selectAll("text").attr("font-family",SANS).attr("font-size",23).attr("font-weight","bold").attr("fill","#000");
  };
  g.append("g").attr("transform",`translate(0,${L.b})`)
    .call(d3.axisBottom(x).tickValues(xTicks).tickFormat(fmt).tickSize(-6).tickPadding(8)).call(styleAxis);
  g.append("g").attr("transform",`translate(0,${L.t})`)
    .call(d3.axisTop(x).tickValues(xTicks).tickFormat("").tickSize(-6)).call(styleAxis);
  const yAx = g.append("g").attr("transform",`translate(${L.l},0)`)
    .call(d3.axisLeft(y).tickValues(p.ticks).tickFormat(fmt).tickSize(-6).tickPadding(5)).call(styleAxis);
  g.append("g").attr("transform",`translate(${L.r},0)`)
    .call(d3.axisRight(y).tickValues(p.ticks).tickFormat("").tickSize(-6)).call(styleAxis);

  let maxW = 0;
  yAx.selectAll("text").each(function(){ maxW = Math.max(maxW, this.getBBox().width); });
  g.append("text").attr("x",L.l-5-maxW-9).attr("y",(L.t+L.b)/2+2).attr("text-anchor","middle")
    .attr("font-family",SANS).attr("font-size",23).attr("font-weight","bold").text(".");

  g.append("rect").attr("x",L.l).attr("y",L.t).attr("width",L.r-L.l).attr("height",L.b-L.t)
    .attr("fill","none").attr("stroke","#000").attr("stroke-width",3);

  seriesKeys.forEach(k=>{
    const vals = p.series[k];
    if(!vals) return;
    const xs = vals.length===GRID.length ? GRID : (vals.length===EPOCHS.length ? EPOCHS : d3.range(vals.length));
    const pts = vals.map((v,i)=>[xs[i],v]);
    const st = styles[k];
    const line = d3.line().x(d=>x(d[0])).y(d=>y(d[1]))
      .curve(xs===GRID ? d3.curveMonotoneX : d3.curveLinear);
    const sg = g.append("g");
    sg.append("path").attr("d",line(pts)).attr("fill","none").attr("stroke",st.color)
      .attr("stroke-width",LW).attr("stroke-linejoin","round").attr("clip-path",`url(#${cid})`);
    if(st.marker){
      const lo = Math.min(...p.domain), hi = Math.max(...p.domain);
      pts.forEach(d=>{
        if(d[0]%5===0 && d[1]>=lo-1e-9 && d[1]<=hi+1e-9) drawMarker(sg, st.marker, st.color, x(d[0]), y(d[1]));
      });
    }
  });

  if(p.row===3){
    const ex = [365, 905, 1453][p.col];
    const ey = [1658, 1666, 1666][p.col];
    g.append("text").attr("x",ex).attr("y",ey).attr("text-anchor","middle")
      .attr("font-family",SANS).attr("font-size",23).attr("font-weight","bold").text("Epoch");
  }

  if(p.legend){
    const lg = g.append("g");
    const bx = 1360, by = 80, bw = 301, bh = 137;
    lg.append("rect").attr("x",bx).attr("y",by).attr("width",bw).attr("height",bh)
      .attr("fill","#fff").attr("stroke","#000").attr("stroke-width",2.5);
    seriesKeys.forEach((k,i)=>{
      const cy = 97 + i*26.6;
      const st = styles[k];
      lg.append("line").attr("x1",1368).attr("x2",1398).attr("y1",cy).attr("y2",cy)
        .attr("stroke",st.color).attr("stroke-width",LW);
      if(st.marker) drawMarker(lg, st.marker, st.color, 1383, cy);
      lg.append("text").attr("x",1402).attr("y",cy).attr("dy","0.36em")
        .attr("font-family",SANS).attr("font-size",22).attr("font-weight","bold").attr("fill","#000")
        .text(seriesNames[i]);
    });
  }
});
</script>
</body></html>
